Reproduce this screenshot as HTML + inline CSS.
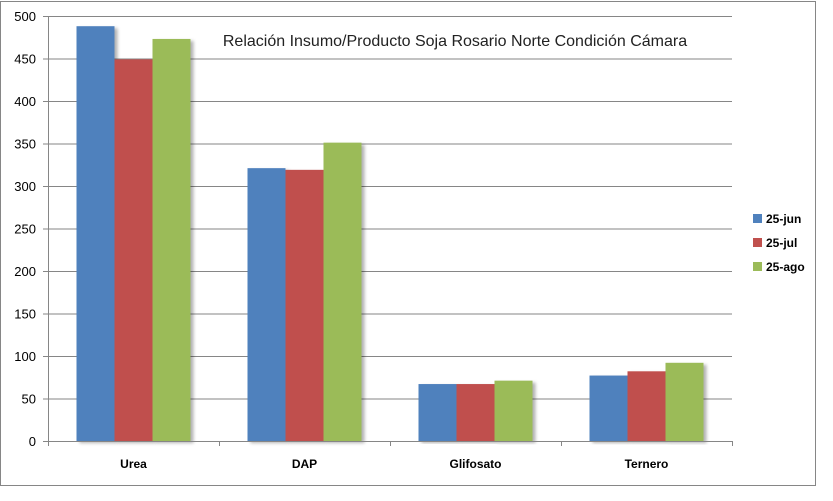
<!DOCTYPE html>
<html><head><meta charset="utf-8"><style>
body{margin:0;background:#fff;width:833px;height:496px;overflow:hidden}
text{font-family:"Liberation Sans",sans-serif}
</style></head><body>
<svg id="chart" width="833" height="496" xmlns="http://www.w3.org/2000/svg">
<defs><filter id="sh" x="-20%" y="-5%" width="150%" height="110%"><feDropShadow dx="3" dy="2" stdDeviation="1.5" flood-color="#000" flood-opacity="0.3"/></filter></defs>
<rect x="0.5" y="1.5" width="815" height="484" fill="#fff" stroke="#868686"/>
<text x="455" y="46" font-size="16" text-anchor="middle" fill="#222">Relación Insumo/Producto Soja Rosario Norte Condición Cámara</text>
<g id="grid"></g><g id="bars"></g><g id="axes"></g><g id="legend"></g>
</svg>
<script>
const categories=["Urea","DAP","Glifosato","Ternero"];
const seriesNames=["25-jun","25-jul","25-ago"];
const s1=[488,321,67,77];
const s2=[449,319,67,82];
const s3=[473,351,71,92];
const yTicks=[0,50,100,150,200,250,300,350,400,450,500];
const colors=["#4f81bd","#c0504d","#9bbb59"];
const NS="http://www.w3.org/2000/svg";
const X0=48,X1=732,Y0=441,Y1=16,YMAX=500;
const y=v=>Y0-(v/YMAX)*(Y0-Y1);
const cw=(X1-X0)/categories.length, bw=38;
function mk(t,a,p){const e=document.createElementNS(NS,t);for(const k in a)e.setAttribute(k,a[k]);p.appendChild(e);return e;}
const grid=document.getElementById('grid'),axes=document.getElementById('axes'),bars=document.getElementById('bars'),leg=document.getElementById('legend');
yTicks.forEach(t=>{
  const l=mk('line',{x1:X0,x2:X1,y1:y(t)+.5,y2:y(t)+.5,stroke:'#868686'},t===0?axes:grid);
  
  
  const tk=mk('line',{x1:X0-5,x2:X0,y1:y(t)+.5,y2:y(t)+.5,stroke:'#868686'},axes);
  
  
  const tx=mk('text',{x:36,y:y(t)+5,'font-size':13,'text-anchor':'end',fill:'#000'},axes);
  tx.textContent=t;
  
  
});
const ya=mk('line',{x1:X0+.5,x2:X0+.5,y1:Y1,y2:Y0,stroke:'#868686'},axes);


for(let i=0;i<=categories.length;i++){
  const xx=Math.round(X0+i*cw)+.5;
  const t=mk('line',{x1:xx,x2:xx,y1:Y0,y2:Y0+5,stroke:'#868686'},axes);
  
  
}
const series=[s1,s2,s3];
categories.forEach((c,i)=>{
  const cx=X0+cw*i+cw/2;
  series.forEach((s,j)=>{
    const bx=cx-1.5*bw+j*bw;
    const r=mk('rect',{x:bx,y:y(s[i]),width:bw,height:Y0-y(s[i]),fill:colors[j],filter:'url(#sh)'},bars);
    
    
  });
  const tx=mk('text',{x:cx,y:468,'font-size':12,'font-weight':'bold','text-anchor':'middle',fill:'#000'},axes);
  tx.textContent=c;
  
  
});
seriesNames.forEach((n,j)=>{
  const yy=218+j*24;
  const r=mk('rect',{x:753,y:yy-4,width:9,height:9,fill:colors[j]},leg);
  
  
  const t=mk('text',{x:766,y:yy+5,'font-size':12,'font-weight':'bold',fill:'#000'},leg);
  t.textContent=n;
  
  
});
</script>
</body></html>
